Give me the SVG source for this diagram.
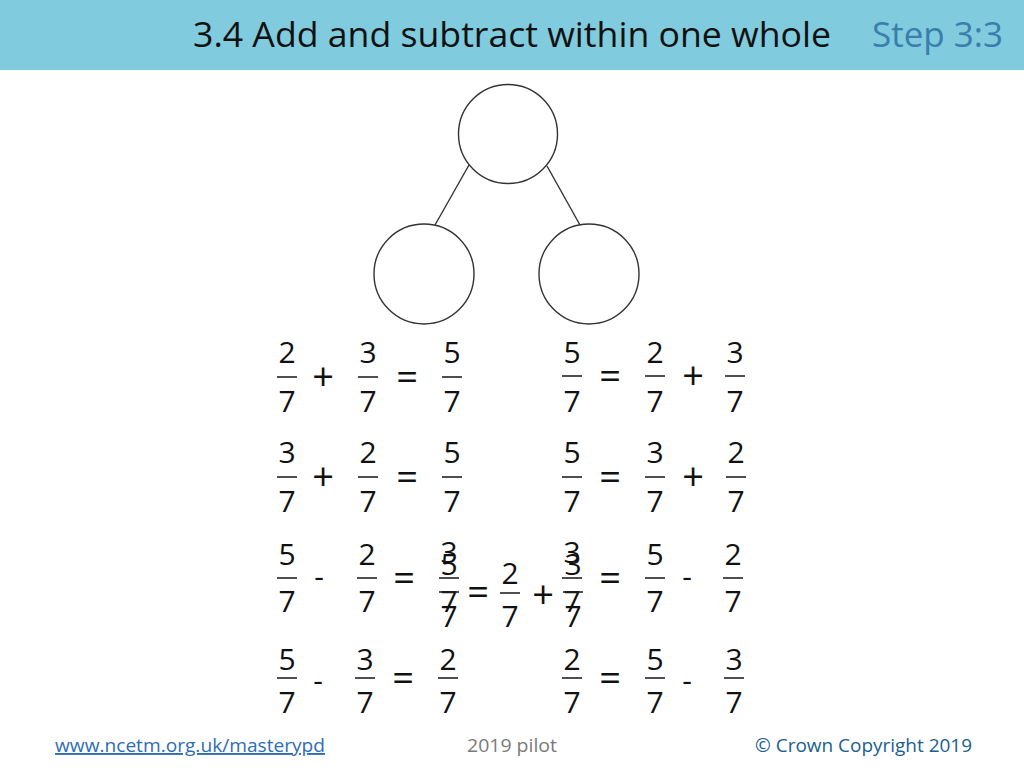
<svg xmlns="http://www.w3.org/2000/svg" width="1024" height="768" viewBox="0 0 1024 768">
<style>
.n{font-family:"Open Sans","Noto Sans",sans-serif;font-size:30px;fill:#111;text-anchor:middle}
.o{font-family:"Open Sans","Noto Sans",sans-serif;font-size:38px;fill:#111;text-anchor:middle}
.bar{stroke:#222;stroke-width:1.6}
.c{fill:#fff;stroke:#333;stroke-width:1.4}
.ln{stroke:#333;stroke-width:1.4}
</style>
<rect x="0" y="0" width="1024" height="70" fill="#80cbde"/>
<text x="193" y="47" font-family="Open Sans, sans-serif" font-size="35" fill="#111" textLength="638" lengthAdjust="spacingAndGlyphs">3.4 Add and subtract within one whole</text>
<text x="872" y="47" font-family="Open Sans, sans-serif" font-size="35" fill="#3a7eab" textLength="131" lengthAdjust="spacingAndGlyphs">Step 3:3</text>

<g id="connectors">
<line class="ln" x1="469" y1="165" x2="435" y2="225"/>
<line class="ln" x1="547" y1="166" x2="580" y2="225"/>
</g>
<g id="node-top"><circle class="c" cx="508" cy="134" r="49.5"/></g>
<g id="node-left"><circle class="c" cx="424" cy="274" r="50"/></g>
<g id="node-right"><circle class="c" cx="589" cy="274" r="50"/></g>

<g id="row1">
<text class="n" x="287" y="363">2</text><line class="bar" x1="277" y1="377" x2="297" y2="377"/><text class="n" x="287" y="412">7</text>
<text class="o" x="323" y="390">+</text>
<text class="n" x="368" y="363">3</text><line class="bar" x1="358" y1="377" x2="378" y2="377"/><text class="n" x="368" y="412">7</text>
<text class="o" x="407" y="390">=</text>
<text class="n" x="452" y="363">5</text><line class="bar" x1="442" y1="377" x2="462" y2="377"/><text class="n" x="452" y="412">7</text>

<text class="n" x="572" y="363">5</text><line class="bar" x1="562" y1="376" x2="582" y2="376"/><text class="n" x="572" y="412">7</text>
<text class="o" x="610" y="389">=</text>
<text class="n" x="655" y="363">2</text><line class="bar" x1="645" y1="376" x2="665" y2="376"/><text class="n" x="655" y="412">7</text>
<text class="o" x="693" y="389">+</text>
<text class="n" x="735" y="363">3</text><line class="bar" x1="725" y1="376" x2="745" y2="376"/><text class="n" x="735" y="412">7</text>
</g>

<g id="row2">
<text class="n" x="287" y="463">3</text><line class="bar" x1="277" y1="477" x2="297" y2="477"/><text class="n" x="287" y="512">7</text>
<text class="o" x="323" y="490">+</text>
<text class="n" x="368" y="463">2</text><line class="bar" x1="358" y1="477" x2="378" y2="477"/><text class="n" x="368" y="512">7</text>
<text class="o" x="407" y="490">=</text>
<text class="n" x="452" y="463">5</text><line class="bar" x1="442" y1="477" x2="462" y2="477"/><text class="n" x="452" y="512">7</text>

<text class="n" x="572" y="463">5</text><line class="bar" x1="562" y1="477" x2="582" y2="477"/><text class="n" x="572" y="512">7</text>
<text class="o" x="610" y="490">=</text>
<text class="n" x="655" y="463">3</text><line class="bar" x1="645" y1="477" x2="665" y2="477"/><text class="n" x="655" y="512">7</text>
<text class="o" x="693" y="490">+</text>
<text class="n" x="736" y="463">2</text><line class="bar" x1="726" y1="477" x2="746" y2="477"/><text class="n" x="736" y="512">7</text>
</g>

<g id="row3">
<text class="n" x="287" y="565">5</text><line class="bar" x1="277" y1="578" x2="297" y2="578"/><text class="n" x="287" y="612">7</text>
<text class="n" x="319" y="587">-</text>
<text class="n" x="367" y="565">2</text><line class="bar" x1="357" y1="578" x2="377" y2="578"/><text class="n" x="367" y="612">7</text>
<text class="o" x="404" y="591">=</text>
<text class="n" x="449" y="563">3</text><line class="bar" x1="439" y1="578" x2="459" y2="578"/><text class="n" x="449" y="612">7</text>

<text class="n" x="572" y="563">3</text><line class="bar" x1="562" y1="578" x2="582" y2="578"/><text class="n" x="572" y="612">7</text>
<text class="o" x="610" y="591">=</text>
<text class="n" x="655" y="565">5</text><line class="bar" x1="645" y1="578" x2="665" y2="578"/><text class="n" x="655" y="612">7</text>
<text class="n" x="687" y="587">-</text>
<text class="n" x="733" y="565">2</text><line class="bar" x1="723" y1="578" x2="743" y2="578"/><text class="n" x="733" y="612">7</text>
</g>

<g id="row3-overlay">
<text class="n" x="449" y="575">5</text><line class="bar" x1="439" y1="592" x2="459" y2="592"/><text class="n" x="449" y="627">7</text>
<text class="o" x="478" y="605">=</text>
<text class="n" x="510" y="584">2</text><line class="bar" x1="500" y1="593" x2="520" y2="593"/><text class="n" x="510" y="627">7</text>
<text class="o" x="543" y="608">+</text>
<text class="n" x="573" y="575">3</text><line class="bar" x1="563" y1="592" x2="583" y2="592"/><text class="n" x="573" y="627">7</text>
</g>

<g id="row4">
<text class="n" x="287" y="670">5</text><line class="bar" x1="277" y1="678" x2="297" y2="678"/><text class="n" x="287" y="713">7</text>
<text class="n" x="318" y="691">-</text>
<text class="n" x="365" y="670">3</text><line class="bar" x1="355" y1="678" x2="375" y2="678"/><text class="n" x="365" y="713">7</text>
<text class="o" x="403" y="691">=</text>
<text class="n" x="448" y="670">2</text><line class="bar" x1="438" y1="678" x2="458" y2="678"/><text class="n" x="448" y="713">7</text>

<text class="n" x="572" y="670">2</text><line class="bar" x1="562" y1="678" x2="582" y2="678"/><text class="n" x="572" y="713">7</text>
<text class="o" x="610" y="691">=</text>
<text class="n" x="655" y="670">5</text><line class="bar" x1="645" y1="678" x2="665" y2="678"/><text class="n" x="655" y="713">7</text>
<text class="n" x="687" y="691">-</text>
<text class="n" x="734" y="670">3</text><line class="bar" x1="724" y1="678" x2="744" y2="678"/><text class="n" x="734" y="713">7</text>
</g>

<g id="footer" font-family="Open Sans, sans-serif" font-size="19">
<text x="55" y="752" fill="#2e6db4" text-decoration="underline" textLength="270" lengthAdjust="spacingAndGlyphs">www.ncetm.org.uk/masterypd</text>
<text x="467" y="752" fill="#7a7a7a" textLength="90" lengthAdjust="spacingAndGlyphs">2019 pilot</text>
<text x="755" y="752" fill="#20608f" textLength="217" lengthAdjust="spacingAndGlyphs">© Crown Copyright 2019</text>
</g>
</svg>
